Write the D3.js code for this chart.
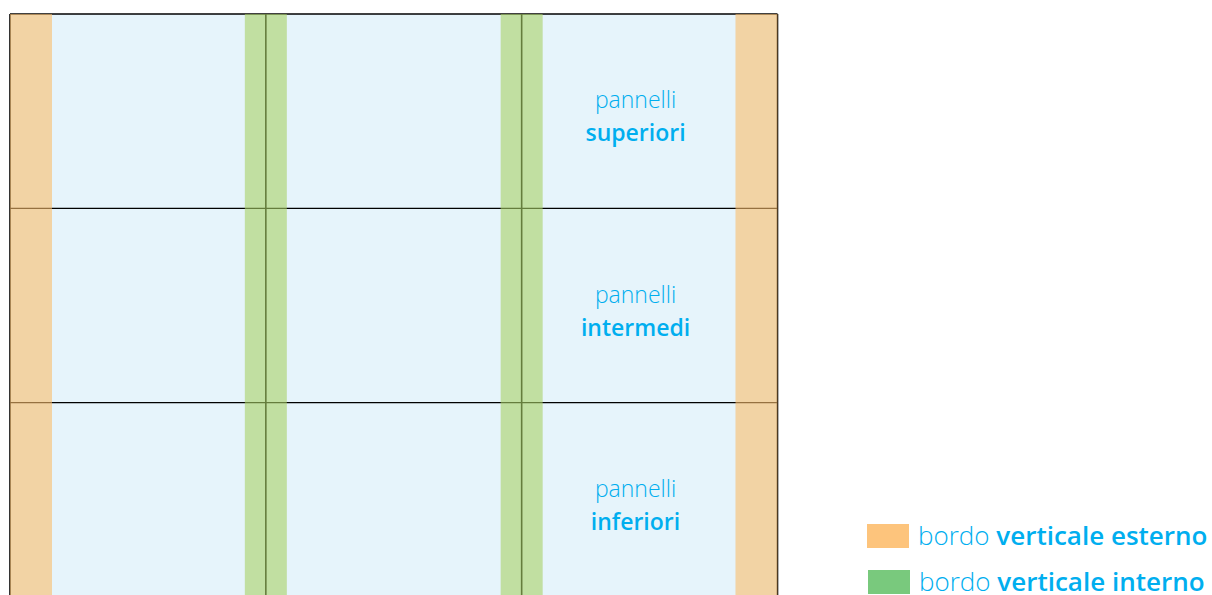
<!DOCTYPE html>
<html>
<head>
<meta charset="utf-8">
<script src="https://cdn.jsdelivr.net/npm/d3@7"></script>
<style>
  html, body { margin: 0; padding: 0; background: #fff; }
  svg { display: block; }
  text { font-family: "Open Sans", Lato, sans-serif; fill: #00aeef; }
</style>
</head>
<body>
<div id="chart"></div>
<script>
// panel grid: 3 columns x 3 rows
const columns = ['sinistra', 'centro', 'destra'];
const rows = ['superiori', 'intermedi', 'inferiori'];
const rowPrefix = 'pannelli';
// vertical edges (0..3) and the kind of border on each
const edges = [
  { edge: 0, kind: 'esterno', side: 'in' },
  { edge: 1, kind: 'interno', side: 'mid' },
  { edge: 2, kind: 'interno', side: 'mid' },
  { edge: 3, kind: 'esterno', side: 'in' },
];
const legendItems = [
  { kind: 'esterno', light: 'bordo ', bold: 'verticale esterno' },
  { kind: 'interno', light: 'bordo ', bold: 'verticale interno' },
];

const width = 1212;
const height = 595;
const stripW = 42;

const colors = {
  bg: '#e6f4fb',
  esterno: '#fabc6b',
  interno: '#a8d066',
};
const legendColors = { esterno: '#fdc47c', interno: '#79c97d' };

const x = d3.scaleLinear().domain([0, columns.length]).range([10, 777.5]);
const y = d3.scaleBand().domain(rows).range([14, 597]);

const svg = d3.select('#chart').append('svg')
  .attr('width', width)
  .attr('height', height);

// background panel
svg.append('rect')
  .attr('x', x(0)).attr('y', y.range()[0])
  .attr('width', x(columns.length) - x(0))
  .attr('height', y.range()[1] - y.range()[0])
  .attr('fill', colors.bg);

// grid lines (drawn under the translucent strips)
const grid = svg.append('g').attr('stroke', '#000').attr('fill', 'none');
grid.selectAll('line.v')
  .data(d3.range(columns.length + 1))
  .join('line')
  .attr('class', 'v')
  .attr('x1', d => x(d)).attr('x2', d => x(d))
  .attr('y1', y.range()[0]).attr('y2', y.range()[1])
  .attr('stroke-width', 1.6);
grid.selectAll('line.h')
  .data(rows)
  .join('line')
  .attr('class', 'h')
  .attr('x1', x(0)).attr('x2', x(columns.length))
  .attr('y1', d => y(d)).attr('y2', d => y(d))
  .attr('stroke-width', 1.3);

// border strips
function stripX(d) {
  if (d.side === 'mid') return x(d.edge) - stripW / 2;
  return d.edge === 0 ? x(d.edge) : x(d.edge) - stripW;
}
svg.append('g').selectAll('rect')
  .data(edges)
  .join('rect')
  .attr('x', stripX)
  .attr('y', y.range()[0])
  .attr('width', stripW)
  .attr('height', y.range()[1] - y.range()[0])
  .attr('fill', d => colors[d.kind])
  .attr('fill-opacity', 0.6);

// row labels, in the last column between the strips
const labelX = x(columns.length - 0.555);
const labels = svg.append('g').selectAll('text')
  .data(rows)
  .join('text')
  .attr('text-anchor', 'middle')
  .attr('font-size', 23);
labels.append('tspan')
  .attr('x', labelX)
  .attr('y', d => y(d) + y.bandwidth() / 2 - 3)
  .attr('font-weight', 300)
  .text(rowPrefix);
labels.append('tspan')
  .attr('x', labelX)
  .attr('y', d => y(d) + y.bandwidth() / 2 + 30)
  .attr('font-weight', 600)
  .text(d => d);

// legend
const legend = svg.append('g').attr('transform', 'translate(867,524)');
const item = legend.selectAll('g')
  .data(legendItems)
  .join('g')
  .attr('transform', (d, i) => `translate(${i},${i * 46})`);
item.append('rect')
  .attr('width', 42).attr('height', 24)
  .attr('fill', d => legendColors[d.kind]);
const lt = item.append('text')
  .attr('x', 51).attr('y', 21)
  .attr('font-size', 26);
lt.append('tspan').attr('font-weight', 300).text(d => d.light);
lt.append('tspan').attr('font-weight', 600).text(d => d.bold);
</script>
</body>
</html>
